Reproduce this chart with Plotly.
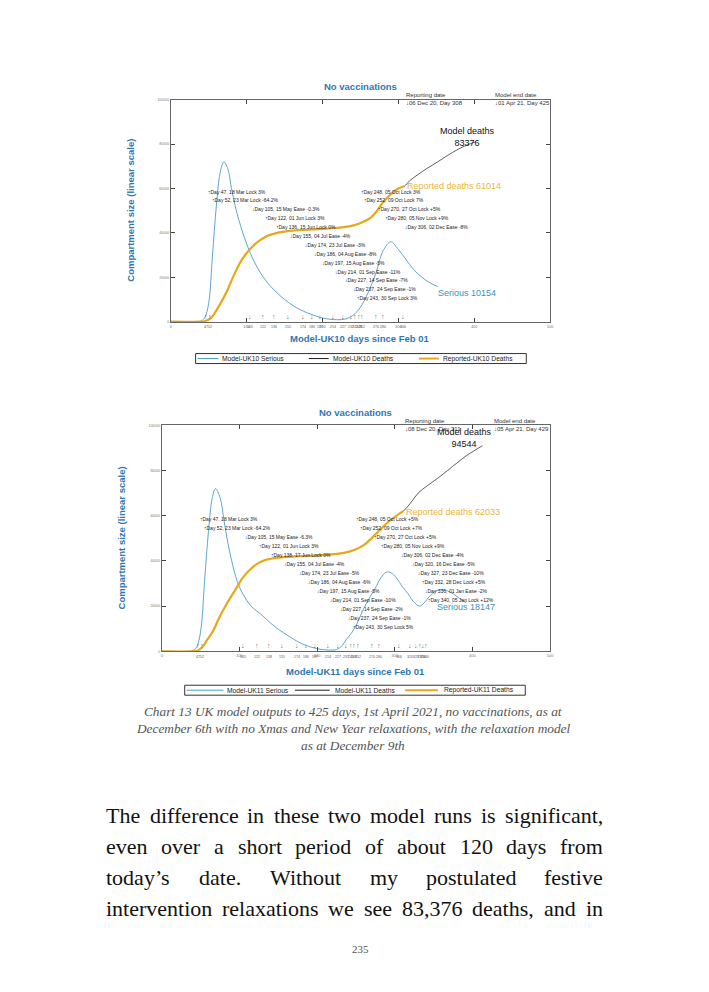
import plotly.graph_objects as go

W, H = 709, 992

# ---------------- data ----------------
x_major = [0, 100, 200, 300, 400, 500]
y_major = [0, 20000, 40000, 60000, 80000, 100000]
y_major_text = ["0", "20000", "40000", "60000", "80000", "100000"]

# Model-UK10
serious10_days = [0, 30, 40, 45, 50, 55, 60, 65, 70, 75, 80, 85, 90, 100, 110, 120, 130, 140,
                  150, 160, 170, 180, 190, 200, 210, 220, 230, 240, 250, 260, 270, 280, 290,
                  300, 310, 320, 330, 340, 352]
serious10 = [0, 0, 300, 2000, 8500, 30000, 52000, 67000, 72000, 69000, 60000, 52000, 45500,
             35000, 27000, 21000, 16500, 13000, 10000, 7500, 5500, 4000, 2700, 1700, 1100, 900,
             1200, 2800, 6500, 13000, 21500, 32000, 36000, 32500, 28000, 23500, 20300, 17800, 15800]
deaths10_days = [0, 40, 45, 50, 55, 60, 65, 70, 75, 80, 86, 92, 99, 108, 116, 125, 135, 145,
                 160, 180, 200, 220, 235, 247, 256, 264, 271, 278, 284, 290, 300, 308, 315, 326,
                 339, 352, 365, 378, 390, 402]
deaths10 = [0, 0, 200, 1000, 2500, 5000, 8000, 11000, 14500, 18500, 23000, 27000, 30500, 34000,
            36300, 38300, 39500, 40300, 41000, 41400, 41800, 42300, 42900, 44000, 45300, 47000,
            49500, 53000, 55300, 57400, 60000, 61014, 63500, 66300, 69300, 72000, 74900, 77500,
            79500, 81000]
reported10_days = [0, 40, 45, 50, 55, 60, 65, 70, 75, 80, 86, 92, 99, 108, 116, 125, 135, 145,
                   160, 180, 200, 220, 235, 247, 256, 264, 271, 278, 284, 290, 300, 308]
reported10 = [0, 0, 200, 1000, 2500, 5000, 8000, 11000, 14500, 18500, 23000, 27000, 30500, 34000,
              36300, 38300, 39500, 40300, 41000, 41400, 41800, 42300, 42900, 44000, 45300, 47000,
              49500, 53000, 55300, 57400, 60000, 61014]
iv10_days = [47, 52, 105, 122, 136, 155, 174, 186, 197, 214, 227, 237, 243,
             248, 252, 270, 280, 306]
iv10_text = ["↑Day 47, 18 Mar Lock 3%", "↑Day 52, 23 Mar Lock -64.2%", "↓Day 105, 15 May Ease -0.3%",
             "↑Day 122, 01 Jun Lock 3%", "↑Day 136, 15 Jun Lock 0%", "↓Day 155, 04 Jul Ease -4%",
             "↓Day 174, 23 Jul Ease -3%", "↓Day 186, 04 Aug Ease -8%", "↓Day 197, 15 Aug Ease -5%",
             "↓Day 214, 01 Sep Ease -11%", "↓Day 227, 14 Sep Ease -7%", "↓Day 237, 24 Sep Ease -1%",
             "↑Day 243, 30 Sep Lock 3%", "↑Day 248, 05 Oct Lock 3%", "↑Day 252, 09 Oct Lock 7%",
             "↑Day 270, 27 Oct Lock +5%", "↑Day 280, 05 Nov Lock +9%", "↓Day 306, 02 Dec Ease -8%"]

# Model-UK11
serious11_days = [0, 30, 40, 45, 50, 55, 60, 65, 69, 75, 80, 85, 90, 97, 105, 115, 129, 140, 150,
                  164, 175, 185, 193, 205, 215, 225, 232, 237, 245, 253, 260, 268, 275, 282, 289,
                  295, 302, 310, 317, 324, 332, 338, 345, 352, 360, 368, 375, 383, 392]
serious11 = [0, 0, 300, 2000, 9000, 31000, 53000, 68000, 72000, 68000, 58000, 48000, 40000, 31000,
             25000, 20000, 16000, 12500, 9800, 6600, 4300, 2700, 1800, 900, 600, 800, 2500, 5000,
             8500, 13500, 19000, 24000, 28000, 32500, 35000, 34800, 32500, 28500, 25500, 22000,
             20000, 21500, 24500, 26500, 27300, 26700, 25500, 23500, 21500]
deaths11_days = [0, 40, 45, 52, 58, 66, 72, 78, 86, 96, 104, 113, 123, 134, 150, 170, 190, 210,
                 228, 240, 250, 260, 270, 280, 290, 300, 311, 320, 330, 342, 355, 368, 381, 392,
                 403, 413]
deaths11 = [0, 0, 200, 1800, 5000, 9000, 13500, 17600, 22500, 28000, 32500, 36000, 38800, 40500,
            41500, 42000, 42300, 42700, 43200, 44000, 45200, 47000, 50000, 53500, 56800, 59500,
            62033, 65500, 70000, 73300, 76500, 80000, 83600, 86500, 88900, 91000]
reported11_days = [0, 40, 45, 52, 58, 66, 72, 78, 86, 96, 104, 113, 123, 134, 150, 170, 190, 210,
                   228, 240, 250, 260, 270, 280, 290, 300, 311]
reported11 = [0, 0, 200, 1800, 5000, 9000, 13500, 17600, 22500, 28000, 32500, 36000, 38800, 40500,
              41500, 42000, 42300, 42700, 43200, 44000, 45200, 47000, 50000, 53500, 56800, 59500,
              62033]
iv11_days = [47, 52, 105, 122, 138, 155, 174, 186, 197, 214, 227, 237, 243,
             248, 252, 270, 280, 306, 320, 327, 332, 336, 340]
iv11_text = ["↑Day 47, 18 Mar Lock 3%", "↑Day 52, 23 Mar Lock -64.2%", "↓Day 105, 15 May Ease -6.3%",
             "↑Day 122, 01 Jun Lock 3%", "↑Day 138, 17 Jun Lock 0%", "↓Day 155, 04 Jul Ease -4%",
             "↓Day 174, 23 Jul Ease -5%", "↓Day 186, 04 Aug Ease -6%", "↓Day 197, 15 Aug Ease -5%",
             "↓Day 214, 01 Sep Ease -10%", "↓Day 227, 14 Sep Ease -2%", "↓Day 237, 24 Sep Ease -1%",
             "↑Day 243, 30 Sep Lock 5%", "↑Day 248, 05 Oct Lock +5%", "↑Day 252, 09 Oct Lock +7%",
             "↑Day 270, 27 Oct Lock +5%", "↑Day 280, 05 Nov Lock +9%", "↓Day 306, 02 Dec Ease -4%",
             "↓Day 320, 16 Dec Ease -5%", "↓Day 327, 23 Dec Ease -10%", "↑Day 332, 28 Dec Lock +5%",
             "↓Day 336, 01 Jan Ease -2%", "↑Day 340, 05 Jan Lock +12%"]

caption_lines = ["Chart 13 UK model outputs to 425 days, 1st April 2021, no vaccinations, as at",
                 "December 6th with no Xmas and New Year relaxations, with the relaxation model",
                 "as at December 9th"]
body_lines = ["The difference in these two model runs is significant,",
              "even over a short period of about 120 days from",
              "today’s date. Without my postulated festive",
              "intervention relaxations we see 83,376 deaths, and in"]
page_number = "235"

# ---------------- styling ----------------
SANS = "Liberation Sans"
SERIF = "Liberation Serif"
BLUE_T = "#2f77b2"
C_SER = "#4c9dc7"
C_DEA = "#1a1a1a"
C_REP = "#e8a81c"


def px(x):
    return x / W


def py(y):
    return 1 - y / H


fig = go.Figure()
ann = []
shapes = []


def note(x, y, text, size, color, family=SANS, xanchor="center", yanchor="middle", **kw):
    d = dict(x=x, y=y, text=text, showarrow=False, xanchor=xanchor, yanchor=yanchor,
             font=dict(size=size, color=color, family=family))
    d.setdefault("xref", "paper")
    d.setdefault("yref", "paper")
    d.update(kw)
    ann.append(d)


def add_chart(k, xr, yr, s_d, s_v, d_d, d_v, r_d, r_v, iv_d, iv_t, tag, rep_day, rep_txt,
              end_txt, dlab, rlab, slab, title_y, ylab_x, xlab_y, leg):
    xa = "x" if k == 1 else "x%d" % k
    ya = "y" if k == 1 else "y%d" % k
    common = dict(showgrid=False, zeroline=False, showline=True, linecolor="#666", linewidth=1,
                  mirror="ticks", ticks="inside", ticklen=4, tickcolor="#444", tickwidth=1)
    fig.layout[("xaxis" if k == 1 else "xaxis%d" % k)] = dict(
        domain=[px(xr[0]), px(xr[1])], range=[0, 500], tickvals=x_major,
        tickfont=dict(size=4, color="#777", family=SANS), anchor=ya, **common)
    fig.layout[("yaxis" if k == 1 else "yaxis%d" % k)] = dict(
        domain=[py(yr[1]), py(yr[0])], range=[0, 100000], tickvals=y_major, ticktext=y_major_text,
        tickfont=dict(size=3.5, color="#777", family=SANS), anchor=xa, **common)
    fig.add_trace(go.Scatter(x=s_d, y=s_v, mode="lines", line=dict(color=C_SER, width=0.9, shape="spline"),
                             xaxis=xa, yaxis=ya, showlegend=False, name="Model-%s Serious" % tag))
    fig.add_trace(go.Scatter(x=d_d, y=d_v, mode="lines", line=dict(color=C_DEA, width=0.7, shape="spline"),
                             xaxis=xa, yaxis=ya, showlegend=False, name="Model-%s Deaths" % tag))
    fig.add_trace(go.Scatter(x=r_d, y=r_v, mode="lines", line=dict(color=C_REP, width=2.2, shape="spline"),
                             xaxis=xa, yaxis=ya, showlegend=False, name="Reported-%s Deaths" % tag))
    # intervention labels
    li, ri = 0, 0
    for d, t in zip(iv_d, iv_t):
        if d < 245:
            row = li
            li += 1
        else:
            row = ri
            ri += 1
        note(d, 58600 - 4000 * row, t, 5, "#222", xanchor="left", xref=xa, yref=ya)
        note(d, 0.0, t[0], 7, "#666", yanchor="bottom", xref=xa, yref=ya + " domain")
        note(d, -0.008, str(d), 3.5, "#555", yanchor="top", xref=xa, yref=ya + " domain")
    # title & axis titles
    cx = (xr[0] + xr[1]) / 2
    note(px(cx), py(title_y), "<b>No vaccinations</b>", 9.5, BLUE_T)
    note(px(ylab_x), py((yr[0] + yr[1]) / 2), "<b>Compartment size (linear scale)</b>", 9.5, BLUE_T,
         textangle=-90)
    note(px(cx), py(xlab_y), "<b>Model-%s days since Feb 01</b>" % tag, 9.5, BLUE_T)
    # reporting date / model end
    for d, txt in ((rep_day, "Reporting date<br>↓" + rep_txt), (425, "Model end date<br>↓" + end_txt)):
        note(d, py(yr[0] - 0.5), txt, 6, "#333", xanchor="left", align="left", xref=xa)
    # end labels
    note(px(dlab[0]), py(dlab[1]), dlab[2], 9, "#111", align="center")
    note(px(rlab[0]), py(rlab[1]), "Reported deaths %d" % r_v[-1], 9, "#e9b53a", xanchor="left")
    note(px(slab[0]), py(slab[1]), slab[2], 9, "#3d8fc0", xanchor="left")
    # legend (drawn)
    lx0, lx1, ly0, ly1, items = leg
    shapes.append(dict(type="rect", xref="paper", yref="paper", x0=px(lx0), x1=px(lx1),
                       y0=py(ly1), y1=py(ly0), line=dict(color="#333", width=1)))
    lc = (ly0 + ly1) / 2
    for (a, b, tx), col, wd, name in zip(items, [C_SER, C_DEA, C_REP], [1, 1, 2],
                                          ["Model-%s Serious" % tag, "Model-%s Deaths" % tag,
                                           "Reported-%s Deaths" % tag]):
        shapes.append(dict(type="line", xref="paper", yref="paper", x0=px(a), x1=px(b),
                           y0=py(lc), y1=py(lc), line=dict(color=col, width=wd)))
        note(px(tx), py(lc), name, 6.7, "#222", xanchor="left")


add_chart(1, (171, 553), (98, 321), serious10_days, serious10, deaths10_days, deaths10,
          reported10_days, reported10, iv10_days, iv10_text, "UK10", 308, "06 Dec 20, Day 308",
          "01 Apr 21, Day 425", (470, 136, "Model deaths<br>83376"), (407, 185),
          (438, 292, "Serious 10154"), 85, 131, 338,
          (196, 529, 353, 363, [(198, 219, 221), (310, 330, 332), (421, 441, 443)]))
add_chart(2, (162, 553), (425, 652), serious11_days, serious11, deaths11_days, deaths11,
          reported11_days, reported11, iv11_days, iv11_text, "UK11", 311, "08 Dec 20, Day 311",
          "05 Apr 21, Day 429", (467, 438, "Model deaths<br>94544"), (406, 512),
          (437, 607, "Serious 18147"), 412, 121, 672,
          (185, 528, 686, 696, [(187, 224, 226), (296, 331, 334), (407, 440, 444)]))

# caption
for i, line in enumerate(caption_lines):
    note(px(355), py(712 + 17.5 * i), "<i>%s</i>" % line, 13.3, "#555", family=SERIF)

# body text, justified using Times metrics
TW = dict(a=444, b=500, c=444, d=500, e=444, f=333, g=500, h=500, i=278, j=278, k=500, l=278,
          m=778, n=500, o=500, p=500, q=500, r=333, s=389, t=278, u=500, v=500, w=722, x=500,
          y=500, z=444, T=611, W=944)
TW.update({",": 250, ".": 250, "’": 333, " ": 250})
BODY_SIZE = 22


def wwidth(word):
    return sum(TW.get(ch, 500) for ch in word) * BODY_SIZE / 1000.0


for li, line in enumerate(body_lines):
    words = line.split(" ")
    widths = [wwidth(w) for w in words]
    x0, x1 = 105, 605
    gap = (x1 - x0 - sum(widths)) / (len(words) - 1)
    xx = x0
    for w, wd in zip(words, widths):
        note(px(xx), py(817 + 31 * li), w, BODY_SIZE, "#111", family=SERIF, xanchor="left", borderpad=0)
        xx += wd + gap

note(px(362), py(951), page_number, 11, "#555", family=SERIF)

fig.update_layout(width=W, height=H, autosize=False, margin=dict(l=0, r=0, t=0, b=0),
                  paper_bgcolor="white", plot_bgcolor="white", annotations=ann, shapes=shapes,
                  showlegend=False)
fig.write_html("out.html", config={"displayModeBar": False},
               post_script="document.body.style.margin='0px';document.body.style.overflow='hidden';")
